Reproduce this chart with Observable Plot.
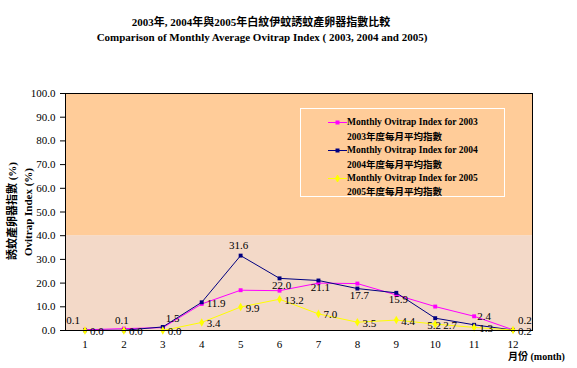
<!DOCTYPE html>
<html><head><meta charset="utf-8">
<script src="https://cdn.jsdelivr.net/npm/d3@7"></script>
<script src="https://cdn.jsdelivr.net/npm/@observablehq/plot@0.6"></script>
<style>
body{margin:0;background:#fff;}
#wrap{position:relative;width:577px;height:368px;overflow:hidden;font-family:"Liberation Serif","DejaVu Serif","Noto Sans CJK TC",serif;color:#000;}
.t{position:absolute;white-space:nowrap;font-weight:bold;line-height:1;}
.ctr{transform:translate(-50%,-50%);}
.rot{transform:translate(-50%,-50%) rotate(-90deg);}
#legend{position:absolute;left:300px;top:108px;width:205px;height:89px;border:1px solid #fff;box-sizing:border-box;}
.lg{position:absolute;left:46px;font-size:9.5px;font-weight:bold;white-space:nowrap;line-height:1;transform:translateY(-50%);}
.ls{position:absolute;left:27px;}
#chart{position:absolute;left:0;top:0;}
</style></head><body>
<div id="wrap">
  <div id="chart"></div>
  <div class="t ctr" style="left:261px;top:22px;font-size:11px;">2003年, 2004年與2005年白紋伊蚊誘蚊產卵器指數比較</div>
  <div class="t ctr" style="left:262px;top:37px;font-size:11px;">Comparison of Monthly Average Ovitrap Index ( 2003, 2004 and 2005)</div>
  <div class="t rot" style="left:12px;top:211px;font-size:11px;">誘蚊產卵器指數 (%)</div>
  <div class="t rot" style="left:28px;top:212px;font-size:11px;">Ovitrap Index (%)</div>
  <div class="t" style="left:508px;top:352px;font-size:10px;">月份 (month)</div>
  <div id="legend"></div>
</div>
<script>
const months = [1,2,3,4,5,6,7,8,9,10,11,12];
const idx2003 = [0.3,0.8,1.2,11.2,17.0,16.8,20.0,19.8,15.0,10.1,6.0,0.3];
const idx2004 = [0.1,0.1,1.5,11.9,31.6,22.0,21.1,17.7,15.9,5.2,2.4,0.2];
const idx2005 = [0.0,0.0,0.0,3.4,9.9,13.2,7.0,3.5,4.4,2.7,1.3,0.2];
const yTicks = [0,10,20,30,40,50,60,70,80,90,100];
const seriesNames = ["Monthly Ovitrap Index for 2003","Monthly Ovitrap Index for 2004","Monthly Ovitrap Index for 2005"];
const seriesNamesZh = ["2003年度每月平均指數","2004年度每月平均指數","2005年度每月平均指數"];
const bandBreaks = [0,40,100];
const labelPos2004 = ["upper-left","above","upper-right","right","above","below","below","below","below","below-left","upper-right","high-right"];
const labelPos2005 = ["right","right","right","right","right","right","right","right","right","far-right","right","right"];

const colors = ["#FF00FF","#000080","#FFFF00"];
const symbols = ["square","square","diamond"];
const xDomain = [months[0]-0.5, months[months.length-1]+0.5];

const series = [idx2003, idx2004, idx2005].map((vals,i)=>months.map((m,j)=>({month:m, value:vals[j], s:i, pos: i===1 ? labelPos2004[j] : labelPos2005[j]})));
const bands = [{lo:bandBreaks[0],hi:bandBreaks[1],fill:"#F3D9C8"},{lo:bandBreaks[1],hi:bandBreaks[2],fill:"#FFCC99"}];

const posStyle = {
  "above":{dx:-2,dy:-10,textAnchor:"middle"},
  "below":{dx:2,dy:7,textAnchor:"middle"},
  "below-left":{dx:-1,dy:7,textAnchor:"middle"},
  "right":{dx:5,dy:1,textAnchor:"start"},
  "far-right":{dx:8,dy:1,textAnchor:"start"},
  "upper-right":{dx:3,dy:-8,textAnchor:"start"},
  "high-right":{dx:5,dy:-10,textAnchor:"start"},
  "upper-left":{dx:-5,dy:-10,textAnchor:"end"}
};

const marks = [
  Plot.rect(bands, {x1: ()=>xDomain[0], x2: ()=>xDomain[1], y1:"lo", y2:"hi", fill:"fill"}),
];
series.forEach((d,i)=>{
  marks.push(Plot.line(d, {x:"month", y:"value", stroke:colors[i], strokeWidth:1}));
  marks.push(Plot.dot(d, {x:"month", y:"value", symbol:symbols[i], fill:colors[i], r: i===2?2.6:2.2}));
});
[1,2].forEach(i=>{
  Object.entries(posStyle).forEach(([k,st])=>{
    const dd = series[i].filter(p=>p.pos===k);
    if (dd.length) marks.push(Plot.text(dd, {x:"month", y:"value", text: p=>p.value.toFixed(1), fill:"#000", fontSize:11, ...st}));
  });
});
marks.push(Plot.frame({stroke:"#000", strokeWidth:1}));

const chart = Plot.plot({
  width:577, height:368,
  marginLeft:65, marginRight:45, marginTop:93, marginBottom:38,
  style:{fontFamily:'"Liberation Serif","DejaVu Serif",serif', fontSize:"11px", color:"#000", background:"transparent"},
  x:{type:"linear", domain:xDomain, ticks:months, tickFormat:d=>String(d), tickSize:0, tickPadding:10, label:null},
  y:{domain:[0,100], ticks:yTicks, tickFormat:d=>d.toFixed(1), tickSize:5, tickPadding:5, label:null},
  marks
});
document.getElementById("chart").appendChild(chart);

// legend
const lg = document.getElementById("legend");
const rowsY = [[13.5,28.5],[42,57],[69.5,84]];
seriesNames.forEach((name,i)=>{
  const ls = document.createElementNS("http://www.w3.org/2000/svg","svg");
  ls.setAttribute("class","ls"); ls.setAttribute("width","19"); ls.setAttribute("height","7");
  ls.style.top = (rowsY[i][0]-4)+"px";
  const ln = document.createElementNS("http://www.w3.org/2000/svg","line");
  ln.setAttribute("x1","0");ln.setAttribute("x2","19");ln.setAttribute("y1","3.5");ln.setAttribute("y2","3.5");
  ln.setAttribute("stroke",colors[i]);
  ls.appendChild(ln);
  const sym = d3.symbol(i===2?d3.symbolDiamond:d3.symbolSquare, i===2?22:16)();
  const mk = document.createElementNS("http://www.w3.org/2000/svg","path");
  mk.setAttribute("d",sym); mk.setAttribute("transform","translate(9.5,3.5)"); mk.setAttribute("fill",colors[i]);
  ls.appendChild(mk);
  lg.appendChild(ls);
  [name, seriesNamesZh[i]].forEach((txt,k)=>{
    const el = document.createElement("div");
    el.className="lg"; el.textContent=txt; el.style.top=rowsY[i][k]+"px";
    lg.appendChild(el);
  });
});
</script>
</body></html>
